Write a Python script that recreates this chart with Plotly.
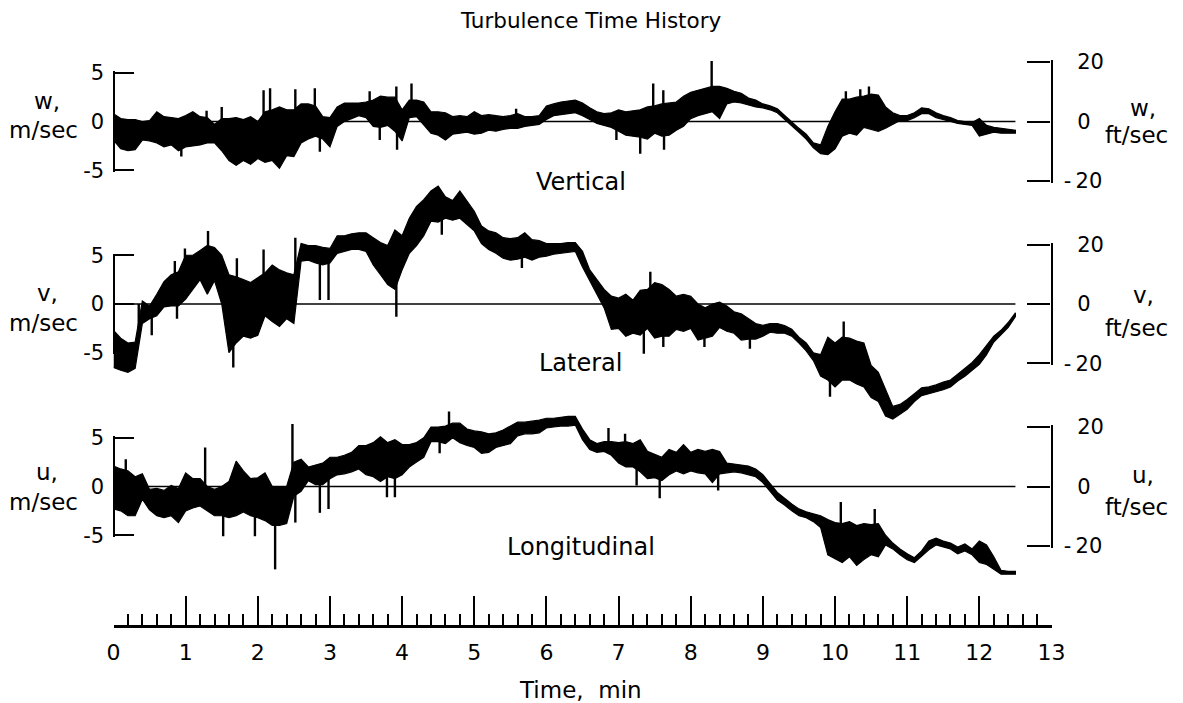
import numpy as np
import plotly.graph_objects as go

# ---------------------------------------------------------------
# Turbulence velocity components (m/sec).
# The band is the running upper / lower excursion sampled every
# 0.1 min; isolated gust peaks are listed separately as needles.
# ---------------------------------------------------------------
TIME_MIN = np.round(np.arange(0, 126) * 0.1, 1)

W_HI = [0.8, 0.3, 0.2, 0.2, 0.0, 0.1, 1.0, 0.5, 0.4, 0.3,
        0.6, 1.0, 0.5, 0.4, -0.3, 0.3, 0.3, 0.4, 0.2, 0.5,
        0.0, 1.0, 1.2, 1.5, 1.2, 1.2, 1.8, 1.8, 1.6, 0.5,
        0.4, 1.5, 1.9, 1.9, 1.9, 2.0, 2.2, 2.6, 2.5, 2.5,
        1.2, 2.2, 2.2, 2.0, 1.0, 1.0, 0.9, 0.5, 0.6, 0.5,
        1.0, 0.6, 0.7, 0.6, 0.5, 0.6, 0.8, 0.5, 0.5, 0.6,
        1.6, 1.8, 2.0, 2.1, 2.2, 1.9, 1.4, 1.0, 0.8, 0.9,
        1.2, 1.0, 1.1, 1.2, 1.5, 1.6, 1.8, 1.9, 2.0, 2.6,
        3.0, 3.2, 3.4, 3.6, 3.6, 3.4, 3.1, 2.9, 2.4, 2.2,
        1.8, 1.6, 1.3, 0.6, 0.0, -0.7, -1.3, -2.2, -2.4, -0.5,
        1.0, 2.3, 2.3, 2.5, 2.6, 2.8, 2.7, 1.5, 0.9, 0.6,
        0.6, 0.9, 1.4, 1.3, 0.9, 0.6, 0.4, 0.1, 0.0, -0.1,
        0.3, -0.4, -0.6, -0.7, -0.8, -0.9]
W_LO = [-1.9, -2.8, -3.0, -2.9, -1.9, -2.0, -2.2, -2.6, -2.4, -3.0,
        -2.6, -2.5, -2.4, -2.2, -2.2, -3.0, -4.0, -4.5, -4.0, -4.4,
        -3.8, -4.2, -4.0, -4.8, -3.5, -3.6, -2.2, -1.8, -1.5, -1.8,
        -2.6, -0.5, 0.0, 0.3, 0.6, 0.4, -0.5, -0.6, -0.4, -1.0,
        -2.0, 0.4, 0.5, -0.3, -1.2, -1.4, -1.9, -1.3, -1.2, -1.1,
        -1.3, -1.2, -0.9, -1.0, -0.8, -0.7, -0.7, -0.5, -0.4, -0.3,
        0.2, 0.6, 0.7, 0.8, 0.9, 0.6, 0.2, -0.2, -0.4, -0.6,
        -1.0, -1.4, -1.5, -1.6, -1.8, -1.2, -1.5, -1.4, -0.9, -0.5,
        0.3, 0.6, 0.8, 1.0, 0.3, 1.8, 2.0, 1.9, 1.7, 1.5,
        1.4, 1.2, 0.9, 0.2, -0.4, -1.1, -1.8, -2.7, -3.3, -3.4,
        -2.8, -1.5, -1.2, -1.4, -0.6, -0.8, -1.0, -0.7, -0.3, 0.1,
        0.1, 0.4, 0.8, 0.8, 0.4, 0.2, 0.0, -0.2, -0.3, -0.4,
        -1.5, -1.3, -1.1, -1.2, -1.2, -1.2]
W_PEAK_T = [1.29, 1.50, 2.08, 2.17, 2.52, 2.79, 3.55, 3.92, 4.13, 5.58,
            7.48, 7.62, 8.29, 10.15, 10.35, 10.47,
            0.94, 2.86, 3.69, 3.93, 6.97, 7.30, 7.63]
W_PEAK_V = [1.1, 1.5, 3.2, 3.4, 3.3, 3.4, 3.1, 3.6, 3.9, 1.3,
            3.9, 3.2, 6.2, 3.1, 3.3, 3.6,
            -3.6, -3.1, -1.9, -2.9, -1.9, -3.3, -2.9]

V_HI = [-2.7, -3.5, -4.0, -3.9, 0.3, -0.2, 1.0, 2.3, 3.0, 3.3,
        5.0, 5.0, 5.5, 6.0, 5.8, 5.0, 3.0, 2.8, 2.5, 2.2,
        2.7, 3.2, 4.0, 3.5, 3.2, 3.0, 6.2, 6.0, 6.0, 5.8,
        5.7, 7.0, 7.0, 7.2, 7.3, 7.3, 6.8, 6.3, 6.0, 7.6,
        7.0, 8.8, 10.0, 10.7, 11.6, 12.1, 11.0, 10.6, 11.6, 10.5,
        9.5, 8.0, 7.5, 7.3, 6.8, 6.7, 6.8, 7.3, 6.6, 6.5,
        6.2, 6.2, 6.2, 6.3, 6.3, 5.4, 3.5, 2.5, 1.5, 0.8,
        0.6, 1.0, 0.4, 1.4, 1.5, 2.2, 2.0, 1.5, 0.8, 1.0,
        0.8, 0.0, -0.4, 0.0, 0.2, -0.2, -0.8, -1.0, -1.5, -2.0,
        -2.2, -2.0, -2.0, -2.2, -2.6, -3.4, -4.0, -5.0, -5.2, -3.4,
        -4.0, -3.4, -3.5, -3.8, -4.0, -6.3, -7.0, -8.8, -10.5, -10.3,
        -9.8, -9.2, -8.6, -8.5, -8.3, -8.0, -7.8, -7.2, -6.6, -6.0,
        -5.2, -4.2, -3.3, -2.7, -1.9, -0.9]
V_LO = [-6.5, -6.8, -7.0, -6.6, -2.0, -1.5, -1.2, -0.3, -0.2, -0.2,
        0.5, 1.5, 2.5, 1.0, 2.4, 0.0, -5.0, -4.0, -3.3, -3.5,
        -3.2, -1.2, -1.8, -2.3, -1.5, -2.0, 4.4, 4.5, 4.2, 4.0,
        4.2, 5.2, 5.4, 5.6, 5.6, 5.4, 4.0, 3.0, 2.0, 1.5,
        3.5, 5.2, 6.0, 7.0, 8.5, 8.4, 8.8, 8.6, 8.8, 8.2,
        7.5, 6.2, 5.6, 5.2, 4.7, 4.5, 4.6, 4.8, 4.5, 4.8,
        4.9, 5.1, 5.2, 5.3, 5.4, 3.8, 2.3, 1.0, -0.4, -2.6,
        -2.5, -3.3, -3.0, -3.2, -2.5, -3.5, -3.3, -3.3, -2.6, -2.8,
        -2.5, -3.7, -3.5, -3.3, -2.4, -2.8, -3.0, -3.7, -3.6, -3.6,
        -3.3, -2.9, -3.0, -3.0, -3.3, -4.0, -4.8, -5.8, -7.4, -7.8,
        -8.5, -7.8, -7.8, -8.2, -8.5, -9.6, -10.0, -11.5, -11.8, -11.3,
        -10.8, -10.0, -9.4, -9.2, -9.0, -8.8, -8.5, -7.9, -7.4, -6.8,
        -6.2, -5.2, -3.9, -3.2, -2.4, -1.3]
V_PEAK_T = [0.35, 0.85, 0.99, 1.31, 1.71, 2.08, 2.52, 7.44, 10.12,
            0.53, 0.88, 1.66, 2.86, 2.98, 3.92, 4.55, 5.66, 7.35, 7.62,
            8.19, 8.82, 9.93]
V_PEAK_V = [0.0, 4.4, 5.7, 7.5, 4.7, 5.6, 6.8, 3.3, -1.8,
            -3.2, -1.5, -6.5, 0.4, 0.4, -1.3, 7.1, 3.7, -5.1, -4.4,
            -4.4, -4.6, -9.5]

U_HI = [2.1, 1.8, 1.6, 1.0, 1.3, -0.3, -0.2, -0.4, 0.1, -0.2,
        1.4, 0.8, 0.8, 0.0, -0.3, 0.0, 0.5, 2.6, 1.6, 0.8,
        0.9, 1.4, 0.0, 0.0, 0.0, 2.5, 2.8, 2.0, 2.2, 2.4,
        3.0, 3.0, 3.2, 3.5, 4.2, 4.2, 4.5, 5.1, 4.5, 4.8,
        4.3, 4.3, 4.5, 5.0, 6.1, 6.1, 6.2, 6.5, 6.5, 5.9,
        5.7, 5.6, 5.4, 5.5, 5.8, 6.2, 6.6, 6.6, 6.7, 6.8,
        7.0, 7.0, 7.1, 7.2, 7.2, 5.9, 4.8, 4.4, 4.6, 4.6,
        4.5, 4.6, 4.4, 4.8, 3.6, 3.3, 3.0, 3.8, 3.5, 4.3,
        3.5, 3.8, 3.6, 3.8, 3.6, 2.4, 2.3, 2.2, 2.1, 1.8,
        1.2, 0.3, -0.6, -1.2, -1.8, -2.3, -2.6, -2.8, -3.0, -3.4,
        -3.7, -3.8, -3.6, -4.0, -3.8, -3.9, -3.8, -5.0, -5.8, -6.4,
        -6.9, -7.3, -6.6, -5.6, -5.3, -5.6, -5.8, -6.2, -5.9, -6.4,
        -5.6, -6.0, -7.2, -8.6, -8.7, -8.7]
U_LO = [-2.3, -2.5, -3.0, -3.0, -1.3, -2.4, -3.0, -3.2, -3.0, -3.7,
        -2.5, -2.2, -2.0, -2.5, -3.0, -3.0, -3.2, -3.0, -2.6, -3.0,
        -3.2, -3.5, -4.0, -4.0, -3.8, -1.0, -0.5, 0.6, 0.2, 0.2,
        0.8, 1.2, 1.3, 1.5, 1.8, 1.2, 1.0, 0.5, 1.0, 0.8,
        1.2, 2.0, 2.5, 3.0, 4.6, 4.6, 4.4, 5.0, 4.5, 4.2,
        4.0, 3.4, 3.5, 4.0, 4.2, 4.4, 5.2, 5.4, 5.4, 5.5,
        6.0, 6.1, 6.2, 6.2, 6.3, 4.8, 3.8, 3.5, 3.6, 3.2,
        2.4, 2.0, 2.0, 1.5, 0.8, 0.9, 0.6, 1.2, 1.6, 1.3,
        1.6, 1.4, 1.3, 0.4, 1.3, 1.4, 1.5, 1.4, 1.2, 1.0,
        0.4, -0.5, -1.4, -1.9, -2.5, -3.0, -3.2, -3.6, -4.2, -7.0,
        -7.4, -7.8, -7.2, -8.1, -7.5, -7.0, -7.2, -6.0, -6.4, -7.0,
        -7.5, -7.8, -7.2, -6.5, -6.0, -6.2, -6.4, -6.9, -6.6, -7.0,
        -7.8, -8.0, -8.5, -9.0, -9.0, -9.0]
U_PEAK_T = [0.17, 1.27, 2.48, 4.65, 6.86, 7.09, 10.08, 10.55,
            1.52, 1.96, 2.24, 2.52, 2.86, 2.98, 3.79, 3.90, 4.52, 7.25,
            7.57, 8.38]
U_PEAK_V = [2.8, 4.0, 6.4, 7.7, 6.0, 5.4, -1.6, -2.3,
            -5.1, -5.1, -8.5, -3.7, -2.7, -2.3, -1.1, -1.1, 3.4, 0.1,
            -1.2, -0.4]

PANELS = [
    # strip name, component symbol, band upper, band lower, peak times, peak values
    ("Vertical", "w,", W_HI, W_LO, W_PEAK_T, W_PEAK_V),
    ("Lateral", "v,", V_HI, V_LO, V_PEAK_T, V_PEAK_V),
    ("Longitudinal", "u,", U_HI, U_LO, U_PEAK_T, U_PEAK_V),
]
M_TICKS = [-5, 0, 5]
FT_TICKS = [-20, 0, 20]
FT_PER_M = 3.28084
TIME_TICKS = list(range(0, 14))
RECORD_END = 12.5

# ---------------------------------------------------------------
# Page geometry (pixels)
# ---------------------------------------------------------------
WIDTH, HEIGHT = 1183, 703
FONT = "DejaVu Sans"
X_LEFT, X_RIGHT = 113.5, 1051.5          # time 0 and time 13
PX_PER_MS = 9.75                          # vertical scale, px per m/sec
ZERO_PX = [121.5, 304.0, 486.5]           # zero line of each strip
DATA_RANGE = [(-7, 8), (-14, 14), (-10, 9)]
TIME_AXIS_PX = 626
END_PX = 1.6                              # axis line overshoot past end ticks


def py(p):
    return 1 - p / HEIGHT


def px(p):
    return p / WIDTH


def span(zero, lo, hi):
    return [py(zero - lo * PX_PER_MS), py(zero - hi * PX_PER_MS)]


fig = go.Figure()
layout_axes = {}

for i, (name, sym, hi, lo, pk_t, pk_v) in enumerate(PANELS):
    data_ax = "y" if i == 0 else f"y{i + 1}"
    left_ax = f"y{i + 4}"
    right_ax = f"y{i + 7}"
    zero = ZERO_PX[i]
    rlo, rhi = DATA_RANGE[i]

    # zero reference, on the m/sec scale
    fig.add_trace(go.Scatter(
        x=[0, RECORD_END], y=[0, 0], mode="lines",
        line=dict(color="black", width=1.6),
        xaxis="x", yaxis=left_ax, hoverinfo="skip", showlegend=False))
    # ft/sec scale carrier
    fig.add_trace(go.Scatter(
        x=[None], y=[None], mode="lines",
        xaxis="x", yaxis=right_ax, hoverinfo="skip", showlegend=False))

    # signal band
    fig.add_trace(go.Scatter(
        x=list(TIME_MIN) + list(TIME_MIN[::-1]),
        y=list(hi) + list(lo[::-1]),
        mode="lines", fill="toself", fillcolor="black",
        line=dict(color="black", width=1.2),
        xaxis="x", yaxis=data_ax, hoverinfo="skip", showlegend=False))

    # gust peaks: needles from the band centre out to the peak value
    centre = (np.interp(pk_t, TIME_MIN, hi) + np.interp(pk_t, TIME_MIN, lo)) / 2
    nx, ny = [], []
    for t, c, v in zip(pk_t, centre, pk_v):
        nx += [t, t, None]
        ny += [float(c), v, None]
    fig.add_trace(go.Scatter(
        x=nx, y=ny, mode="lines", line=dict(color="black", width=2.4),
        xaxis="x", yaxis=data_ax, hoverinfo="skip", showlegend=False))

    key = "yaxis" if i == 0 else f"yaxis{i + 1}"
    layout_axes[key] = dict(
        domain=span(zero, rlo, rhi), range=[rlo, rhi], visible=False,
        anchor="x", fixedrange=True, automargin=False)

    m_lim = max(M_TICKS) + END_PX / PX_PER_MS
    layout_axes[f"yaxis{i + 4}"] = dict(
        domain=span(zero, -m_lim, m_lim), range=[-m_lim, m_lim],
        anchor="free", position=px(X_LEFT), side="left",
        showline=True, linecolor="black", linewidth=2.2,
        ticks="inside", ticklen=19, tickwidth=2.2, tickcolor="black",
        tickvals=M_TICKS, ticktext=[str(v) for v in M_TICKS],
        tickfont=dict(family=FONT, size=21, color="black"),
        ticklabelstandoff=4, automargin=False,
        showgrid=False, zeroline=False, fixedrange=True)

    ft_lim = max(FT_TICKS) + END_PX * FT_PER_M / PX_PER_MS
    layout_axes[f"yaxis{i + 7}"] = dict(
        domain=span(zero, -ft_lim / FT_PER_M, ft_lim / FT_PER_M),
        range=[-ft_lim, ft_lim],
        anchor="free", position=px(X_RIGHT), side="right",
        showline=True, linecolor="black", linewidth=2.2,
        ticks="inside", ticklen=23, tickwidth=2.2, tickcolor="black",
        tickvals=FT_TICKS,
        ticktext=[("-\u2009" if v < 0 else "\u2007") + str(abs(v))
                  for v in FT_TICKS],
        tickfont=dict(family=FONT, size=21, color="black"),
        ticklabelstandoff=7, automargin=False,
        showgrid=False, zeroline=False, fixedrange=True)

layout_axes["xaxis"] = dict(
    domain=[px(X_LEFT), px(X_RIGHT)], range=[0, 13],
    anchor="free", position=py(TIME_AXIS_PX),
    showline=True, linecolor="black", linewidth=2.5,
    tickmode="array", tickvals=TIME_TICKS,
    ticks="inside", ticklen=29, tickwidth=1.8, tickcolor="black",
    minor=dict(dtick=0.2, tick0=0, ticks="inside", ticklen=11,
               tickwidth=1.5, tickcolor="black", showgrid=False),
    tickfont=dict(family=FONT, size=22, color="black"),
    ticklabelstandoff=6, automargin=False,
    showgrid=False, zeroline=False, fixedrange=True)

annotations = []


def label(text, x, y, size=23):
    annotations.append(dict(
        text=text, x=px(x), y=py(y), xref="paper", yref="paper",
        xanchor="center", yanchor="middle", showarrow=False,
        font=dict(family=FONT, size=size, color="black")))


label("Turbulence Time History", 591, 20, 21.5)
SIDE_Y = [(101.5, 130, 108, 135), (293, 323, 295, 328), (471.5, 501.5, 475, 506.5)]
NAME_Y = [181.5, 363, 546.5]
for (name, sym, *_), (ly1, ly2, ry1, ry2), ny in zip(PANELS, SIDE_Y, NAME_Y):
    label(sym, 47, ly1)
    label("m/sec", 43, ly2)
    label(sym, 1143, ry1)
    label("ft/sec", 1136, ry2)
    label(name, 581, ny, 24)
label("Time,  min", 580, 690)

fig.update_layout(
    template="none",
    width=WIDTH, height=HEIGHT, autosize=False,
    margin=dict(l=0, r=0, t=0, b=0, pad=0, autoexpand=False),
    paper_bgcolor="white", plot_bgcolor="rgba(0,0,0,0)",
    showlegend=False, annotations=annotations,
    **layout_axes)

fig.write_html("out.html", config={"displayModeBar": False})
